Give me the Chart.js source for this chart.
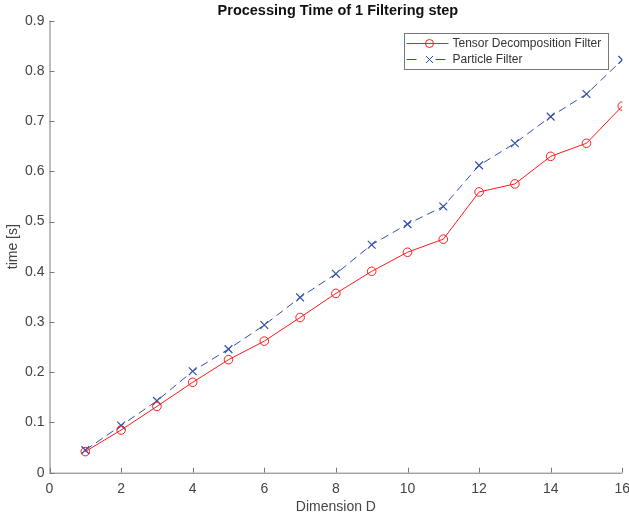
<!DOCTYPE html>
<html>
<head>
<meta charset="utf-8">
<script src="https://cdn.jsdelivr.net/npm/chart.js@4.4.1/dist/chart.umd.min.js"></script>
<style>
html,body{margin:0;padding:0;background:#fff;}
#wrap{width:629px;height:519px;position:relative;}
</style>
</head>
<body>
<div id="wrap"><canvas id="c" width="629" height="519"></canvas></div>
<script>
const chartTitle = 'Processing Time of 1 Filtering step';
const xAxisLabel = 'Dimension D';
const yAxisLabel = 'time [s]';
const dimensions = [1, 2, 3, 4, 5, 6, 7, 8, 9, 10, 11, 12, 13, 14, 15, 16];
const tensorFilterTime = [0.042, 0.085, 0.132, 0.180, 0.225, 0.262, 0.309, 0.357, 0.401, 0.439, 0.465, 0.559, 0.575, 0.630, 0.656, 0.730];
const particleFilterTime = [0.045, 0.094, 0.143, 0.202, 0.246, 0.294, 0.349, 0.396, 0.454, 0.495, 0.530, 0.612, 0.656, 0.709, 0.754, 0.822];
const seriesLabels = ['Tensor Decomposition Filter', 'Particle Filter'];
const xTicks = [0, 2, 4, 6, 8, 10, 12, 14, 16];
const yTicks = [0, 0.1, 0.2, 0.3, 0.4, 0.5, 0.6, 0.7, 0.8, 0.9];

const RED = '#ff1a1a';
const BLUE = '#2f4fab';
const AXIS = '#7a7a7a';
const TEXT = '#444444';
const FONT = "'Liberation Sans', Arial, Helvetica, sans-serif";

const toPts = (ys) => dimensions.map((d, i) => ({x: d, y: ys[i]}));

const innerTicks = {
  id: 'innerTicks',
  afterDraw(chart) {
    const ctx = chart.ctx, xs = chart.scales.x, ys = chart.scales.y;
    const a = chart.chartArea;
    ctx.save();
    ctx.strokeStyle = AXIS;
    ctx.lineWidth = 1;
    ctx.beginPath();
    ctx.moveTo(a.left + 0.5, a.top);
    ctx.lineTo(a.left + 0.5, a.bottom + 0.5);
    ctx.lineTo(a.right, a.bottom + 0.5);
    ctx.stroke();
    ctx.beginPath();
    xTicks.forEach(v => {
      const px = Math.round(xs.getPixelForValue(v)) + 0.5;
      ctx.moveTo(px, a.bottom);
      ctx.lineTo(px, a.bottom - 5);
    });
    yTicks.forEach(v => {
      const py = Math.round(ys.getPixelForValue(v)) + 0.5;
      ctx.moveTo(a.left, py);
      ctx.lineTo(a.left + 5, py);
    });
    ctx.stroke();
    ctx.restore();
  }
};

const titlePlugin = {
  id: 'titlePlugin',
  afterDraw(chart) {
    const ctx = chart.ctx, a = chart.chartArea;
    ctx.save();
    ctx.font = 'bold 14.5px ' + FONT;
    ctx.fillStyle = '#111';
    ctx.textAlign = 'center';
    ctx.textBaseline = 'middle';
    ctx.fillText(chartTitle, (a.left + a.right) / 2 + 2, 11);
    ctx.restore();
  }
};

const legendPlugin = {
  id: 'boxLegend',
  afterDraw(chart) {
    const ctx = chart.ctx;
    const x0 = 404.5, y0 = 33.5, w = 204, h = 36;
    ctx.save();
    ctx.fillStyle = '#fff';
    ctx.fillRect(x0, y0, w, h);
    ctx.strokeStyle = '#777';
    ctx.lineWidth = 1;
    ctx.strokeRect(x0, y0, w, h);
    ctx.font = '12px ' + FONT;
    ctx.textBaseline = 'middle';
    ctx.textAlign = 'left';
    chart.data.datasets.forEach((ds, i) => {
      const cy = y0 + 10 + i * 16;
      ctx.strokeStyle = ds.borderColor;
      ctx.lineWidth = 1;
      ctx.setLineDash(ds.borderDash ? [10, 19] : []);
      ctx.beginPath();
      ctx.moveTo(x0 + 2, cy);
      ctx.lineTo(x0 + 44, cy);
      ctx.stroke();
      ctx.setLineDash([]);
      const mx = x0 + 25;
      ctx.beginPath();
      if (ds.pointStyle === 'circle') {
        ctx.arc(mx, cy, 4, 0, Math.PI * 2);
      } else {
        ctx.moveTo(mx - 3.5, cy - 3.5); ctx.lineTo(mx + 3.5, cy + 3.5);
        ctx.moveTo(mx + 3.5, cy - 3.5); ctx.lineTo(mx - 3.5, cy + 3.5);
      }
      ctx.stroke();
      ctx.fillStyle = '#333';
      ctx.fillText(ds.label, x0 + 48, cy + 0.5);
    });
    ctx.restore();
  }
};

new Chart(document.getElementById('c'), {
  type: 'scatter',
  data: {
    datasets: [
      {
        label: seriesLabels[0],
        data: toPts(tensorFilterTime),
        showLine: true,
        borderColor: RED,
        backgroundColor: 'rgba(0,0,0,0)',
        borderWidth: 1,
        pointStyle: 'circle',
        pointRadius: 4.3,
        pointBorderWidth: 1,
        pointBorderColor: RED,
        pointBackgroundColor: 'rgba(0,0,0,0)'
      },
      {
        label: seriesLabels[1],
        data: toPts(particleFilterTime),
        showLine: true,
        borderColor: BLUE,
        backgroundColor: 'rgba(0,0,0,0)',
        borderWidth: 1,
        borderDash: [8, 5],
        pointStyle: 'crossRot',
        pointRadius: 5.5,
        pointBorderWidth: 1.2,
        pointBorderColor: BLUE,
        pointBackgroundColor: 'rgba(0,0,0,0)'
      }
    ]
  },
  options: {
    responsive: false,
    animation: false,
    devicePixelRatio: 1,
    layout: {padding: {top: 20.7, right: 6.3, left: 0, bottom: 0}},
    plugins: {legend: {display: false}, tooltip: {enabled: false}, title: {display: false}},
    scales: {
      x: {
        type: 'linear',
        min: 0, max: 16,
        afterBuildTicks: (s) => { s.ticks = xTicks.map(v => ({value: v})); },
        afterFit: (s) => { s.height = 46.3; s.paddingLeft = 0; s.paddingRight = 0; },
        border: {display: false},
        grid: {display: false, drawTicks: false},
        ticks: {color: TEXT, font: {family: FONT, size: 14}, padding: 8, maxRotation: 0},
        title: {display: true, text: xAxisLabel, color: TEXT, font: {family: FONT, size: 14}, padding: {top: 0, bottom: 3}}
      },
      y: {
        type: 'linear',
        min: 0, max: 0.9,
        afterBuildTicks: (s) => { s.ticks = yTicks.map(v => ({value: v})); },
        afterFit: (s) => { s.width = 49.5; s.paddingTop = 0; s.paddingBottom = 0; },
        border: {display: false},
        grid: {display: false, drawTicks: false},
        ticks: {color: TEXT, font: {family: FONT, size: 14}, padding: 5,
          callback: (v) => v === 0 ? '0' : Number(v).toFixed(1)},
        title: {display: true, text: yAxisLabel, color: TEXT, font: {family: FONT, size: 14}, padding: {top: 5, bottom: 0}}
      }
    }
  },
  plugins: [innerTicks, titlePlugin, legendPlugin]
});
</script>
</body>
</html>
